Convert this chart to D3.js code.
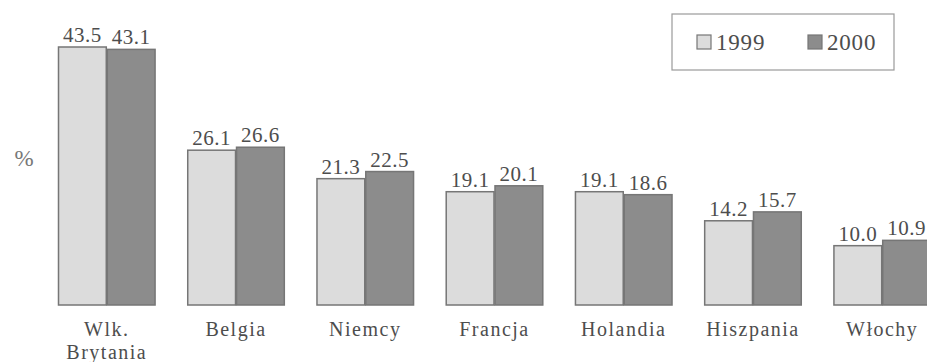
<!DOCTYPE html>
<html>
<head>
<meta charset="utf-8">
<script src="https://cdn.jsdelivr.net/npm/d3@7"></script>
</head>
<body style="margin:0;background:#fff">
<svg id="chart" width="927" height="362" style="display:block"></svg>
<script>
// Country categories (second line of a label after "\n")
const categories = ["Wlk.\nBrytania", "Belgia", "Niemcy", "Francja", "Holandia", "Hiszpania", "Włochy"];
const seriesNames = ["1999", "2000"];
const values1999 = [43.5, 26.1, 21.3, 19.1, 19.1, 14.2, 10.0];
const values2000 = [43.1, 26.6, 22.5, 20.1, 18.6, 15.7, 10.9];
const valueLabels1999 = ["43.5", "26.1", "21.3", "19.1", "19.1", "14.2", "10.0"];
const valueLabels2000 = ["43.1", "26.6", "22.5", "20.1", "18.6", "15.7", "10.9"];

const FONT = "Liberation Serif";
const svg = d3.select("#chart");
const textCol = "#4d4d4d";
const fills = { "1999": "#dcdcdc", "2000": "#8c8c8c" };
const strokeCol = "#767676";

const x = d3.scaleBand().domain(categories).range([58, 931]).paddingInner(0.245).paddingOuter(0);
const xs = d3.scaleBand().domain(seriesNames).range([0, x.bandwidth()]);
const y = d3.scaleLinear().domain([0, 43.5]).range([305, 47]);

const rows = categories.map((c, i) => ({
  cat: c,
  bars: [
    { s: "1999", v: values1999[i], label: valueLabels1999[i] },
    { s: "2000", v: values2000[i], label: valueLabels2000[i] }
  ]
}));

const g = svg.selectAll("g.grp").data(rows).join("g")
  .attr("class", "grp")
  .attr("transform", d => `translate(${x(d.cat)},0)`);

g.selectAll("rect").data(d => d.bars).join("rect")
  .attr("x", d => xs(d.s) + 0.5)
  .attr("y", d => y(d.v))
  .attr("width", xs.bandwidth() - 1)
  .attr("height", d => y(0) - y(d.v))
  .attr("fill", d => fills[d.s])
  .attr("stroke", strokeCol)
  .attr("stroke-width", 1.5);

g.selectAll("text.val").data(d => d.bars).join("text")
  .attr("class", "val")
  .attr("x", d => xs(d.s) + xs.bandwidth() / 2)
  .attr("y", d => y(d.v) - 5)
  .attr("text-anchor", "middle")
  .attr("font-family", FONT)
  .attr("font-size", 21)
  .attr("letter-spacing", 0.5)
  .attr("fill", textCol)
  .text(d => d.label);

// Category labels under the bars
const xAxis = svg.append("g");
categories.forEach(c => {
  const lines = c.split("\n");
  const cx = x(c) + x.bandwidth() / 2;
  lines.forEach((ln, k) => {
    xAxis.append("text")
      .attr("x", cx)
      .attr("y", 336 + k * 23)
      .attr("text-anchor", "middle")
      .attr("font-family", FONT)
      .attr("font-size", 20)
      .attr("letter-spacing", 1.5)
      .attr("fill", textCol)
      .text(ln);
  });
});

// Unit marker
svg.append("text")
  .attr("x", 24).attr("y", 166)
  .attr("text-anchor", "middle")
  .attr("font-family", FONT)
  .attr("font-size", 23)
  .attr("fill", "#777")
  .text("%");

// Legend
const lg = svg.append("g");
lg.append("rect")
  .attr("x", 672).attr("y", 14).attr("width", 222).attr("height", 56)
  .attr("fill", "#fff").attr("stroke", "#9a9a9a").attr("stroke-width", 1.2);
const legendX = d3.scalePoint().domain(seriesNames).range([697, 808]);
seriesNames.forEach(s => {
  lg.append("rect")
    .attr("x", legendX(s)).attr("y", 35).attr("width", 14).attr("height", 14)
    .attr("fill", fills[s]).attr("stroke", strokeCol).attr("stroke-width", 1.2);
  lg.append("text")
    .attr("x", legendX(s) + 19).attr("y", 50)
    .attr("font-family", FONT)
    .attr("font-size", 23)
    .attr("letter-spacing", 0.8)
    .attr("fill", textCol)
    .text(s);
});
</script>
</body>
</html>
